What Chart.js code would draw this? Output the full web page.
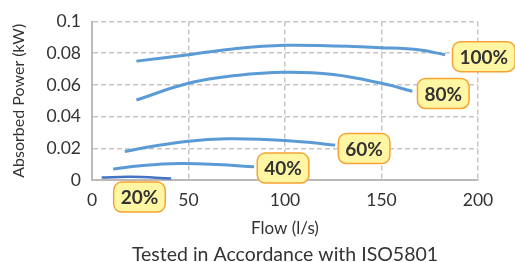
<!DOCTYPE html>
<html>
<head>
<meta charset="utf-8">
<script src="https://cdn.jsdelivr.net/npm/chart.js@4.4.1/dist/chart.umd.min.js"></script>
<style>
  html, body { margin: 0; padding: 0; background: #fff; }
  #wrap { width: 515px; height: 262px; position: relative; }
</style>
</head>
<body>
<div id="wrap"><canvas id="c"></canvas></div>
<script>
// --- données ---
const curveNames = ['100%', '80%', '60%', '40%', '20%'];

const flow100 = [23, 50, 75, 100, 125, 150, 170, 183];
const power100 = [0.075, 0.079, 0.083, 0.085, 0.0845, 0.0835, 0.082, 0.079];

const flow80 = [23, 50, 75, 100, 125, 150, 166];
const power80 = [0.0505, 0.061, 0.066, 0.068, 0.0665, 0.061, 0.056];

const flow60 = [17, 30, 50, 70, 90, 110, 126];
const power60 = [0.018, 0.021, 0.0245, 0.026, 0.0255, 0.024, 0.022];

const flow40 = [11, 25, 45, 65, 84];
const power40 = [0.007, 0.009, 0.0104, 0.0098, 0.0083];

const flow20 = [5, 20, 41];
const power20 = [0.0015, 0.002, 0.001];

// ancrage des étiquettes (unités des axes)
const labelFlow = [203, 182, 141, 99, 24.6];
const labelPower = [0.0778, 0.0546, 0.0198, 0.0075, -0.0108];

const xTitle = 'Flow (l/s)';
const yTitle = 'Absorbed Power (kW)';
const footer = 'Tested in Accordance with ISO5801';

const FONT = 'Lato, "Open Sans", sans-serif';

const pts = (xs, ys) => xs.map((x, i) => ({ x, y: ys[i] }));

const series = [
  { data: pts(flow100, power100), color: '#5b9bd5', width: 3 },
  { data: pts(flow80, power80), color: '#5b9bd5', width: 3 },
  { data: pts(flow60, power60), color: '#5b9bd5', width: 3 },
  { data: pts(flow40, power40), color: '#5b9bd5', width: 3 },
  { data: pts(flow20, power20), color: '#4472c4', width: 2.5 }
];

// étiquettes jaunes arrondies + mention sous le graphique
const tagPlugin = {
  id: 'tags',
  afterDatasetsDraw(chart) {
    const { ctx, chartArea, scales: { x, y } } = chart;
    ctx.save();
    ctx.font = 'bold 19px ' + FONT;
    curveNames.forEach((txt, i) => {
      const cx = x.getPixelForValue(labelFlow[i]);
      const cy = y.getPixelForValue(labelPower[i]);
      const w = ctx.measureText(txt).width + 14;
      const h = 30;
      ctx.beginPath();
      ctx.roundRect(cx - w / 2, cy - h / 2, w, h, 8);
      ctx.fillStyle = '#fff6a4';
      ctx.fill();
      ctx.lineWidth = 1.5;
      ctx.strokeStyle = '#f6a333';
      ctx.stroke();
      ctx.fillStyle = '#333';
      ctx.textAlign = 'center';
      ctx.textBaseline = 'middle';
      ctx.fillText(txt, cx, cy + 1);
    });
    // footer centré sur la zone de tracé
    ctx.font = '19.5px ' + FONT;
    ctx.fillStyle = '#333';
    ctx.textAlign = 'center';
    ctx.textBaseline = 'middle';
    ctx.fillText(footer, (chartArea.left + chartArea.right) / 2, 255);
    ctx.restore();
  }
};

new Chart(document.getElementById('c'), {
  type: 'line',
  data: {
    datasets: series.map((s, i) => ({
      label: curveNames[i],
      data: s.data,
      borderColor: s.color,
      borderWidth: s.width,
      pointRadius: 0,
      tension: 0.4,
      fill: false
    }))
  },
  plugins: [tagPlugin],
  options: {
    responsive: true,
    maintainAspectRatio: false,
    animation: false,
    events: [],
    layout: { padding: { top: 14, right: 37, bottom: 23, left: 0 } },
    plugins: {
      legend: { display: false },
      tooltip: { enabled: false }
    },
    scales: {
      x: {
        type: 'linear',
        min: 0,
        max: 200,
        afterFit: s => { s.height = 59; },
        ticks: { stepSize: 50, color: '#333', padding: 10, font: { family: FONT, size: 17.5 } },
        grid: { color: '#c9c5c5', lineWidth: 1.5, drawTicks: false },
        border: { color: '#bdb9b9', width: 2, dash: [5, 3] },
        title: {
          display: true,
          text: xTitle,
          color: '#333',
          font: { family: FONT, size: 17 },
          padding: { top: 0, bottom: 0 }
        }
      },
      y: {
        min: 0,
        max: 0.1,
        afterFit: s => { s.width = 92; },
        ticks: {
          stepSize: 0.02, color: '#333', padding: 11, font: { family: FONT, size: 17.5 },
          callback: v => String(+v.toFixed(2))
        },
        grid: { color: '#c9c5c5', lineWidth: 1.5, drawTicks: false },
        border: { color: '#bdb9b9', width: 2, dash: [5, 3] },
        title: {
          display: true,
          text: yTitle,
          color: '#333',
          font: { family: FONT, size: 16 },
          padding: { top: 9, bottom: 0 }
        }
      }
    }
  }
});
</script>
</body>
</html>
